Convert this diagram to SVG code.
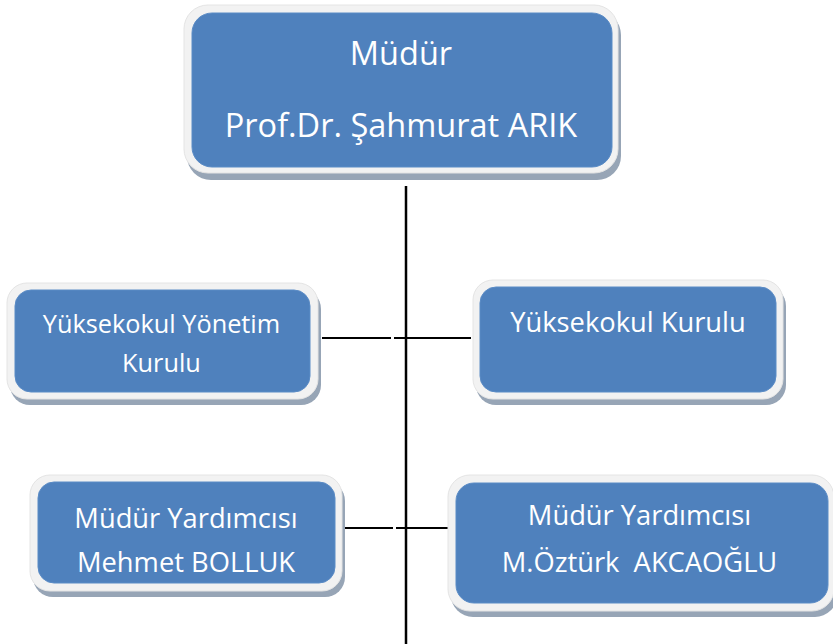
<svg xmlns="http://www.w3.org/2000/svg" width="833" height="644" viewBox="0 0 833 644">
<style>
.sh{fill:#97a5b6}
.fr{fill:#f2f2f2;stroke:#e4e4e4;stroke-width:1}
.bx{fill:#4f81bd;stroke:#5b8cc6;stroke-width:1}
.t{font-family:"Open Sans","Noto Sans","Liberation Sans",sans-serif;fill:#ffffff;text-anchor:middle;white-space:pre}
.ln{stroke:#000;stroke-width:2;fill:none}
</style>
<rect width="833" height="644" fill="#ffffff"/>
<g id="connectors">
<line class="ln" x1="406" y1="186" x2="406" y2="644" style="stroke-width:2.5"/>
<line class="ln" x1="322" y1="338" x2="391" y2="338"/>
<line class="ln" x1="394" y1="338" x2="471" y2="338"/>
<line class="ln" x1="337" y1="528" x2="393" y2="528"/>
<line class="ln" x1="396" y1="528" x2="452" y2="528"/>
</g>
<g id="mudur">
<rect class="sh" x="187" y="11" width="434" height="169" rx="24"/>
<rect class="fr" x="184" y="5" width="434" height="168" rx="24"/>
<rect class="bx" x="192" y="13" width="420" height="154" rx="20"/>
<text class="t" x="401" y="65" font-size="32.5">Müdür</text>
<text class="t" x="401" y="137" font-size="32.5">Prof.Dr. Şahmurat ARIK</text>
</g>
<g id="yonetim-kurulu">
<rect class="sh" x="10" y="289" width="311" height="116" rx="20"/>
<rect class="fr" x="7" y="283" width="311" height="116" rx="20"/>
<rect class="bx" x="15" y="290" width="295" height="102" rx="16"/>
<text class="t" x="161.5" y="333" font-size="25.3">Yüksekokul Yönetim</text>
<text class="t" x="161.5" y="372" font-size="25.3">Kurulu</text>
</g>
<g id="yuksekokul-kurulu">
<rect class="sh" x="476" y="286" width="310" height="119" rx="20"/>
<rect class="fr" x="473" y="280" width="310" height="119" rx="20"/>
<rect class="bx" x="480" y="287" width="296" height="105" rx="16"/>
<text class="t" x="628" y="332" font-size="27.3">Yüksekokul Kurulu</text>
</g>
<g id="yardimci-1">
<rect class="sh" x="33" y="481" width="312" height="116" rx="20"/>
<rect class="fr" x="30" y="475" width="312" height="116" rx="20"/>
<rect class="bx" x="38" y="482" width="297" height="101" rx="16"/>
<text class="t" x="186" y="528" font-size="27.3">Müdür Yardımcısı</text>
<text class="t" x="186" y="572" font-size="27.3">Mehmet BOLLUK</text>
</g>
<g id="yardimci-2">
<rect class="sh" x="451" y="481" width="386" height="136" rx="22"/>
<rect class="fr" x="448" y="475" width="386" height="136" rx="22"/>
<rect class="bx" x="456" y="483" width="372" height="120" rx="18"/>
<text class="t" x="639.5" y="525" font-size="27.3">Müdür Yardımcısı</text>
<text class="t" x="639.5" y="572" font-size="27.3">M.Öztürk  AKCAOĞLU</text>
</g>
</svg>
